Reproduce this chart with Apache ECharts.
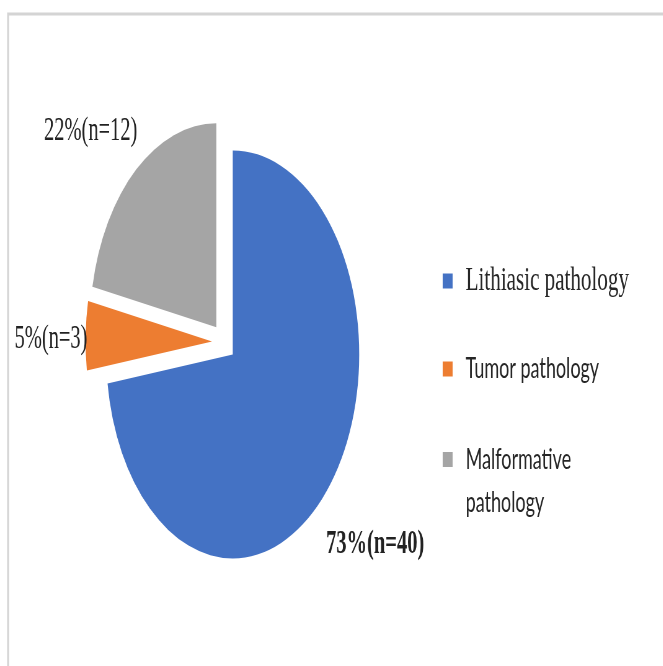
<!DOCTYPE html>
<html>
<head>
<meta charset="utf-8">
<script src="https://cdn.jsdelivr.net/npm/echarts@6/dist/echarts.min.js"></script>
<style>
  html, body { margin: 0; padding: 0; background: #fff; overflow: hidden; }
  #wrap { width: 663px; height: 666px; overflow: hidden; position: relative; }
  /* the chart is drawn wide and squeezed horizontally, giving the oval pie */
  #chart { width: 1070px; height: 666px; transform: scaleX(0.62); transform-origin: 0 0; }
</style>
</head>
<body>
<div id="wrap"><div id="chart"></div></div>
<script>
// Pathology types and patient counts
const categories = ['Lithiasic pathology', 'Tumor pathology', 'Malformative pathology'];
const counts = [40, 3, 12];
const colors = ['#4472C4', '#ED7D31', '#A5A5A5'];

// label nudges [dx, dy] and legend placement
const labelShift = [[-16, 50], [18, 4], [13, -30]];
const legendTops = [263, 351, 395];
const legendText = [
  { fontFamily: 'Liberation Serif', fontSize: 34, lineHeight: 36, padding: [0, 0, 0, 16] },
  { fontFamily: 'Lato', fontSize: 29, lineHeight: 36, padding: [0, 0, 0, 16] },
  { fontFamily: 'Lato', fontSize: 29, lineHeight: 43, width: 220, overflow: 'break', padding: [0, 0, 0, 16] }
];
// a leading blank line keeps the square beside the first line of wrapped text
const legendFormat = [name => name, name => name, name => '\n' + name];

const chart = echarts.init(document.getElementById('chart'), null, { renderer: 'canvas' });

chart.setOption({
  animation: false,
  backgroundColor: '#ffffff',
  graphic: [{
    type: 'rect',
    shape: { x: 13, y: 14, width: 1300, height: 900 },
    style: { fill: 'none', stroke: '#d4d4d4', lineWidth: 3 },
    silent: true
  }],
  legend: categories.map((name, i) => ({
    data: [{ name: name, itemStyle: { color: colors[i] } }],
    orient: 'vertical',
    left: 714,
    top: legendTops[i],
    padding: 0,
    icon: 'rect',
    itemWidth: 16,
    itemHeight: 15,
    selectedMode: false,
    formatter: legendFormat[i],
    textStyle: Object.assign({ color: '#262626' }, legendText[i])
  })),
  series: [{
    type: 'pie',
    center: [361, 342],
    radius: 204,
    startAngle: 90,
    clockwise: true,
    selectedMode: 'multiple',
    selectedOffset: 19,
    percentPrecision: 0,
    avoidLabelOverlap: false,
    emphasis: { disabled: true },
    select: { itemStyle: { borderWidth: 0 } },
    data: categories.map((name, i) => ({
      name: name,
      value: counts[i],
      selected: true,
      itemStyle: { color: colors[i] },
      label: { fontWeight: i === 0 ? 'bold' : 'normal' }
    })),
    label: {
      show: true,
      position: 'outside',
      alignTo: 'none',
      formatter: p => p.percent + '%(n=' + p.value + ')',
      fontFamily: 'Liberation Serif',
      fontSize: 33,
      color: '#222222'
    },
    labelLine: { show: false, length: 10, length2: 0 },
    labelLayout: p => ({ dx: labelShift[p.dataIndex][0], dy: labelShift[p.dataIndex][1] })
  }]
});
</script>
</body>
</html>
